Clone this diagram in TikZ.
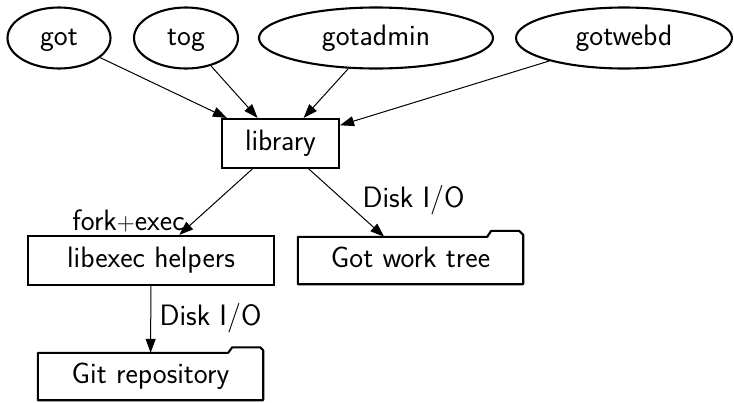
\documentclass[tikz,border=0pt]{standalone}
\usetikzlibrary{shapes.geometric,arrows.meta}
\begin{document}
\begin{tikzpicture}[x=1pt,y=-1pt,
  every node/.style={font=\sffamily\fontsize{29.5}{34}\selectfont, inner sep=0pt, text height=20.5pt, text depth=6pt},
  prog/.style={ellipse, draw, line width=2.1pt, minimum height=61pt},
  boxnode/.style={rectangle, draw, line width=2.1pt, minimum height=49pt},
  foldernode/.style={rectangle, minimum height=47pt},
  folderline/.style={line width=2.1pt, line join=round},
  edge/.style={line width=1pt, -{Triangle[length=14pt,width=10pt]}},
  lbl/.style={}
]
\useasboundingbox (0,0) rectangle (734,402);

\node[prog, minimum width=103pt] (got) at (59,38) {got};
\node[prog, minimum width=104pt] (tog) at (186,38) {tog};
\node[prog, minimum width=234pt] (gotadmin) at (376,38) {gotadmin};
\node[prog, minimum width=216pt] (gotwebd) at (624,38) {gotwebd};

\node[boxnode, minimum width=117pt] (library) at (280.5,143.5) {library};
\node[boxnode, minimum width=246pt] (libexec) at (151,260.5) {libexec helpers};

\node[foldernode, minimum width=225pt] (worktree) at (410.5,260.5) {Got work tree};
\node[foldernode, minimum width=225pt] (gitrepo) at (150.5,376.5) {Git repository};

\draw[folderline] (worktree.south west) -- (worktree.north west)
  -- ([xshift=-36pt]worktree.north east) -- ([xshift=-32pt,yshift=6pt]worktree.north east)
  -- ([xshift=-4pt,yshift=6pt]worktree.north east) -- ([yshift=2pt]worktree.north east)
  -- (worktree.south east) -- cycle;
\draw[folderline] (gitrepo.south west) -- (gitrepo.north west)
  -- ([xshift=-35pt]gitrepo.north east) -- ([xshift=-31pt,yshift=5.5pt]gitrepo.north east)
  -- ([xshift=-3pt,yshift=5.5pt]gitrepo.north east) -- ([yshift=2.5pt]gitrepo.north east)
  -- (gitrepo.south east) -- cycle;

\draw[edge] (got) -- (library);
\draw[edge] (tog) -- (library);
\draw[edge] (gotadmin) -- (library);
\draw[edge] (gotwebd) -- (library);
\draw[edge] (library) -- (libexec);
\draw[edge] (library) -- (worktree);
\draw[edge] (libexec) -- (gitrepo);

\node[lbl] (forkexec) at (128.5,223) {fork$+$exec};
\node[lbl] (diskio1) at (413.5,200) {Disk I/O};
\node[lbl] (diskio2) at (210.5,318) {Disk I/O};
\end{tikzpicture}
\end{document}
